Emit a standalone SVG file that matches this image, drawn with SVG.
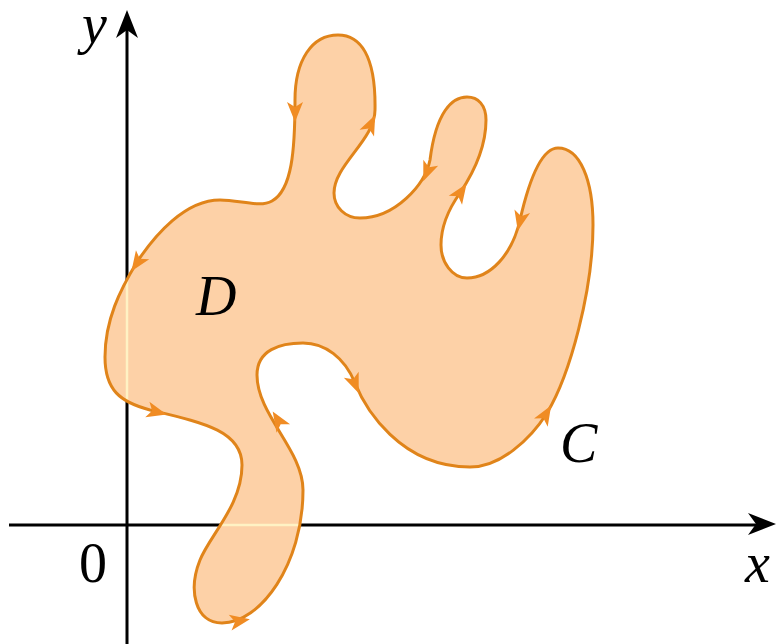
<svg xmlns="http://www.w3.org/2000/svg" xmlns:xlink="http://www.w3.org/1999/xlink" width="776" height="644" viewBox="0 0 776 644">
<style>
.axis{stroke:#000;stroke-width:3;fill:none}
.region{fill:#fdd1a7;stroke:none}
.curve{fill:none;stroke:#e0841a;stroke-width:3;stroke-linejoin:round}
.ghost{stroke:#fff2c4;stroke-width:2.5;fill:none}
.lbl{font-family:"Liberation Serif","Times New Roman",serif;font-size:56px;fill:#000}
.it{font-style:italic}
.ah{fill:#f08c24}
</style>
<defs>
<path id="shape" d="M222,623 C260,623 303,565 303,490 C303,450 257,415 257,375 C257,350 280,343 303,343 C325,343 345,358 355,383 C365,408 400,467 470,467 C500,467 530,440 547,413 C570,375 593,290 593,225 C593,180 580,148 558,148 C540,148 528,185 520,220 C512,255 490,278 467,278 C452,278 441,262 441,245 C441,225 450,207 460,193 C470,178 486,150 486,120 C486,105 478,97 467,97 C452,97 436,112 430,160 C425,185 395,218 360,218 C345,218 334,207 334,193 C334,165 375,140 375,110 C376,55 360,35 338,35 C312,35 295,60 295,100 C295,150 292,190 272,201 C260,208 240,200 220,200 C185,200 155,235 137,262 C120,290 105,320 105,357 C105,390 120,402 150,410 C200,422 242,430 242,465 C242,505 210,535 200,560 C188,590 195,623 222,623 Z"/>
<clipPath id="clip"><use xlink:href="#shape"/></clipPath>
<path id="ah" d="M10,0 L-10,-8 L-5,0 L-10,8 Z"/>
<path id="axh" d="M0,0 L-28,-11 L-20,0 L-28,11 Z"/>
</defs>
<g id="axes">
<line class="axis" x1="127" y1="644" x2="127" y2="20"/>
<line class="axis" x1="9" y1="525" x2="765" y2="525"/>
<use xlink:href="#axh" transform="translate(127,10) rotate(-90)"/>
<use xlink:href="#axh" transform="translate(776,524)"/>
</g>
<g id="region-D">
<use xlink:href="#shape" class="region"/>
<g clip-path="url(#clip)">
<line class="ghost" x1="127" y1="0" x2="127" y2="644"/>
<line class="ghost" x1="0" y1="525" x2="776" y2="525"/>
</g>
</g>
<g id="curve-C">
<use xlink:href="#shape" class="curve"/>
<use xlink:href="#ah" class="ah" transform="translate(240,621) rotate(-10)"/>
<use xlink:href="#ah" class="ah" transform="translate(278,420) rotate(-122)"/>
<use xlink:href="#ah" class="ah" transform="translate(355,384) rotate(68)"/>
<use xlink:href="#ah" class="ah" transform="translate(546,414) rotate(-59)"/>
<use xlink:href="#ah" class="ah" transform="translate(520,221) rotate(103)"/>
<use xlink:href="#ah" class="ah" transform="translate(461,192) rotate(-56)"/>
<use xlink:href="#ah" class="ah" transform="translate(427,172) rotate(112)"/>
<use xlink:href="#ah" class="ah" transform="translate(371,124) rotate(-65)"/>
<use xlink:href="#ah" class="ah" transform="translate(295,112) rotate(90)"/>
<use xlink:href="#ah" class="ah" transform="translate(137,263) rotate(124)"/>
<use xlink:href="#ah" class="ah" transform="translate(157,412) rotate(15)"/>
</g>
<g id="labels">
<text class="lbl it" x="82" y="43">y</text>
<text class="lbl it" x="196" y="315">D</text>
<text class="lbl it" x="560" y="462">C</text>
<text class="lbl" x="79" y="582">0</text>
<text class="lbl it" x="745" y="582">x</text>
</g>
</svg>
